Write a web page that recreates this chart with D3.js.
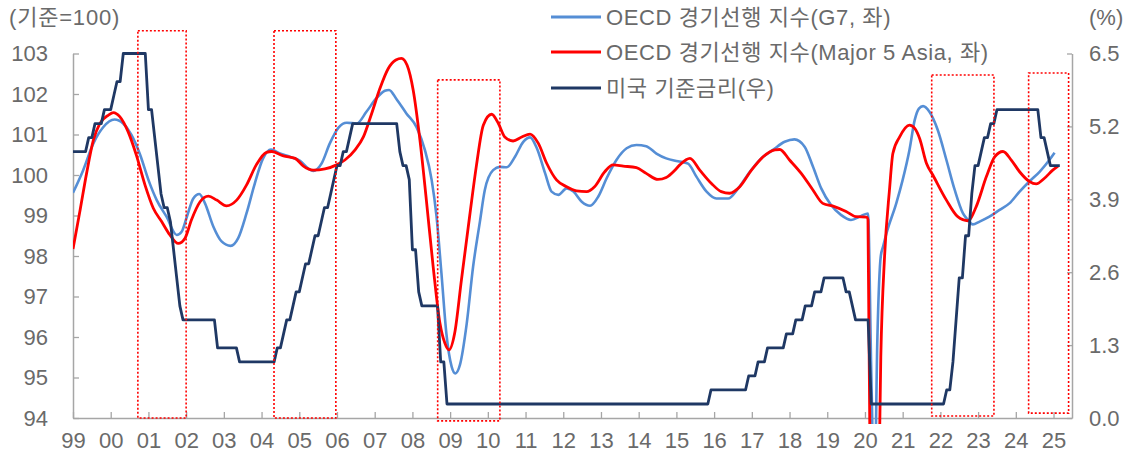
<!DOCTYPE html>
<html>
<head>
<meta charset="utf-8">
<script src="https://cdn.jsdelivr.net/npm/d3@7"></script>
<style>
  html, body { margin: 0; padding: 0; background: #fff; }
  svg { display: block; }
  text { font-family: "Liberation Sans", "Noto Sans CJK KR", sans-serif; fill: #6a6a6a; }
</style>
</head>
<body>
<svg id="chart" width="1124" height="452"></svg>
<script>
// ---- Data ---------------------------------------------------------------
const yearTicks = d3.range(1999, 2026);
const yearLabels = ["99","00","01","02","03","04","05","06","07","08","09","10","11","12",
                    "13","14","15","16","17","18","19","20","21","22","23","24","25"];
const leftTicks = [94, 95, 96, 97, 98, 99, 100, 101, 102, 103];
const rightTicks = [0.0, 1.3, 2.6, 3.9, 5.2, 6.5];

const seriesNames = ["OECD 경기선행 지수(G7, 좌)", "OECD 경기선행 지수(Major 5 Asia, 좌)", "미국 기준금리(우)"];

// OECD CLI, G7 (decimal year, index)
const g7Cli = [
  [1999.00,99.56],[1999.27,100.12],[1999.54,100.78],[1999.80,101.18],[2000.10,101.37],[2000.33,101.27],
  [2000.55,100.99],[2000.78,100.50],[2001.00,99.88],[2001.22,99.38],[2001.48,98.97],[2001.75,98.52],
  [2001.88,98.60],[2002.02,98.97],[2002.19,99.42],[2002.35,99.53],[2002.50,99.30],[2002.72,98.73],
  [2002.94,98.36],[2003.18,98.25],[2003.38,98.44],[2003.60,99.05],[2003.82,99.79],[2004.04,100.41],
  [2004.25,100.63],[2004.49,100.53],[2004.75,100.45],[2005.02,100.35],[2005.24,100.16],[2005.37,100.10],
  [2005.59,100.28],[2005.81,100.78],[2006.04,101.17],[2006.26,101.29],[2006.52,101.27],[2006.78,101.56],
  [2007.04,101.89],[2007.27,102.08],[2007.38,102.10],[2007.58,101.87],[2007.84,101.52],[2008.11,101.18],
  [2008.33,100.62],[2008.51,99.88],[2008.64,98.97],[2008.77,97.57],[2008.90,96.09],[2009.04,95.27],
  [2009.14,95.10],[2009.26,95.31],[2009.44,96.33],[2009.61,97.74],[2009.79,98.85],[2009.92,99.63],
  [2010.14,100.12],[2010.32,100.20],[2010.50,100.19],[2010.72,100.45],[2010.94,100.82],[2011.12,100.93],
  [2011.30,100.66],[2011.52,100.04],[2011.69,99.59],[2011.87,99.51],[2012.09,99.67],[2012.27,99.59],
  [2012.49,99.34],[2012.71,99.24],[2012.93,99.47],[2013.15,99.92],[2013.41,100.37],[2013.68,100.66],
  [2013.94,100.74],[2014.20,100.71],[2014.47,100.53],[2014.73,100.41],[2015.04,100.34],[2015.31,100.28],
  [2015.53,99.96],[2015.80,99.59],[2016.06,99.42],[2016.37,99.42],[2016.64,99.67],[2016.95,100.08],
  [2017.25,100.41],[2017.56,100.62],[2017.87,100.82],[2018.13,100.88],[2018.40,100.70],[2018.62,100.21],
  [2018.84,99.67],[2019.10,99.26],[2019.37,99.01],[2019.63,98.89],[2019.90,98.99],[2020.08,99.05],
  [2020.17,95.00],[2020.25,92.00],[2020.33,96.00],[2020.42,98.00],[2020.48,98.23],[2020.57,98.56],
  [2020.83,99.30],[2021.00,99.88],[2021.18,100.62],[2021.32,101.36],[2021.43,101.64],[2021.54,101.70],
  [2021.71,101.56],[2021.93,101.11],[2022.16,100.37],[2022.38,99.63],[2022.60,99.05],[2022.73,98.89],
  [2022.86,98.78],[2023.04,98.85],[2023.30,98.97],[2023.57,99.14],[2023.83,99.30],[2024.10,99.59],
  [2024.36,99.84],[2024.63,100.08],[2024.89,100.37],[2025.03,100.55]
];

// OECD CLI, Major 5 Asia (decimal year, index)
const asiaCli = [
  [1999.00,98.17],[1999.19,99.14],[1999.36,100.04],[1999.54,100.86],[1999.71,101.27],[1999.94,101.48],
  [2000.07,101.54],[2000.24,101.44],[2000.46,101.07],[2000.68,100.49],[2000.91,99.75],[2001.13,99.18],
  [2001.35,98.85],[2001.57,98.52],[2001.79,98.31],[2001.97,98.44],[2002.14,98.89],[2002.37,99.34],
  [2002.59,99.48],[2002.81,99.38],[2003.07,99.24],[2003.34,99.38],[2003.60,99.75],[2003.86,100.25],
  [2004.13,100.56],[2004.27,100.58],[2004.58,100.47],[2004.89,100.41],[2005.11,100.22],[2005.37,100.12],
  [2005.68,100.15],[2005.99,100.25],[2006.21,100.37],[2006.48,100.62],[2006.70,100.94],[2006.92,101.52],
  [2007.14,102.14],[2007.36,102.63],[2007.56,102.84],[2007.71,102.88],[2007.86,102.71],[2008.02,102.10],
  [2008.20,100.86],[2008.37,99.38],[2008.55,97.74],[2008.73,96.34],[2008.86,95.85],[2008.97,95.68],
  [2009.12,96.09],[2009.30,97.41],[2009.52,99.00],[2009.70,100.25],[2009.88,101.23],[2010.10,101.50],
  [2010.28,101.27],[2010.45,100.94],[2010.67,100.84],[2010.90,100.94],[2011.12,101.01],[2011.34,100.78],
  [2011.56,100.29],[2011.82,99.88],[2012.09,99.71],[2012.35,99.61],[2012.62,99.59],[2012.83,99.71],
  [2013.10,100.08],[2013.32,100.25],[2013.59,100.22],[2013.94,100.18],[2014.20,100.04],[2014.51,99.89],
  [2014.73,99.94],[2014.96,100.12],[2015.09,100.25],[2015.36,100.41],[2015.62,100.12],[2015.93,99.79],
  [2016.19,99.59],[2016.41,99.55],[2016.68,99.71],[2016.99,100.12],[2017.30,100.45],[2017.61,100.62],
  [2017.74,100.63],[2018.00,100.37],[2018.31,100.04],[2018.62,99.63],[2018.88,99.30],[2019.19,99.22],
  [2019.50,99.10],[2019.76,98.97],[2020.05,98.96],[2020.08,98.90],[2020.17,89.00],[2020.25,88.00],
  [2020.33,90.00],[2020.42,95.50],[2020.52,97.99],[2020.65,99.63],[2020.74,100.53],[2020.92,100.94],
  [2021.18,101.23],[2021.32,101.15],[2021.45,100.90],[2021.63,100.29],[2021.80,100.00],[2022.16,99.38],
  [2022.46,98.97],[2022.73,98.87],[2022.95,99.22],[2023.22,99.96],[2023.44,100.45],[2023.66,100.58],
  [2023.88,100.37],[2024.10,100.08],[2024.36,99.84],[2024.54,99.78],[2024.76,99.92],[2024.98,100.12],
  [2025.12,100.22]
];

// US policy rate (target / upper bound, %), monthly from Jan 1999
const fedRate = [
  4.75,4.75,4.75,4.75,4.75,5.00,5.00,5.25,5.25,5.25,5.50,5.50,   // 1999
  5.50,5.75,6.00,6.00,6.50,6.50,6.50,6.50,6.50,6.50,6.50,6.50,   // 2000
  5.50,5.50,5.00,4.50,4.00,3.75,3.75,3.50,3.00,2.50,2.00,1.75,   // 2001
  1.75,1.75,1.75,1.75,1.75,1.75,1.75,1.75,1.75,1.75,1.25,1.25,   // 2002
  1.25,1.25,1.25,1.25,1.25,1.00,1.00,1.00,1.00,1.00,1.00,1.00,   // 2003
  1.00,1.00,1.00,1.00,1.00,1.25,1.25,1.50,1.75,1.75,2.00,2.25,   // 2004
  2.25,2.50,2.75,2.75,3.00,3.25,3.25,3.50,3.75,3.75,4.00,4.25,   // 2005
  4.50,4.50,4.75,4.75,5.00,5.25,5.25,5.25,5.25,5.25,5.25,5.25,   // 2006
  5.25,5.25,5.25,5.25,5.25,5.25,5.25,5.25,4.75,4.50,4.50,4.25,   // 2007
  3.00,3.00,2.25,2.00,2.00,2.00,2.00,2.00,2.00,1.00,1.00,0.25,   // 2008
  0.25,0.25,0.25,0.25,0.25,0.25,0.25,0.25,0.25,0.25,0.25,0.25,   // 2009
  0.25,0.25,0.25,0.25,0.25,0.25,0.25,0.25,0.25,0.25,0.25,0.25,   // 2010
  0.25,0.25,0.25,0.25,0.25,0.25,0.25,0.25,0.25,0.25,0.25,0.25,   // 2011
  0.25,0.25,0.25,0.25,0.25,0.25,0.25,0.25,0.25,0.25,0.25,0.25,   // 2012
  0.25,0.25,0.25,0.25,0.25,0.25,0.25,0.25,0.25,0.25,0.25,0.25,   // 2013
  0.25,0.25,0.25,0.25,0.25,0.25,0.25,0.25,0.25,0.25,0.25,0.25,   // 2014
  0.25,0.25,0.25,0.25,0.25,0.25,0.25,0.25,0.25,0.25,0.25,0.50,   // 2015
  0.50,0.50,0.50,0.50,0.50,0.50,0.50,0.50,0.50,0.50,0.50,0.75,   // 2016
  0.75,0.75,1.00,1.00,1.00,1.25,1.25,1.25,1.25,1.25,1.25,1.50,   // 2017
  1.50,1.50,1.75,1.75,1.75,2.00,2.00,2.00,2.25,2.25,2.25,2.50,   // 2018
  2.50,2.50,2.50,2.50,2.50,2.50,2.25,2.25,2.00,1.75,1.75,1.75,   // 2019
  1.75,1.75,0.25,0.25,0.25,0.25,0.25,0.25,0.25,0.25,0.25,0.25,   // 2020
  0.25,0.25,0.25,0.25,0.25,0.25,0.25,0.25,0.25,0.25,0.25,0.25,   // 2021
  0.25,0.25,0.50,0.50,1.00,1.75,2.50,2.50,3.25,3.25,4.00,4.50,   // 2022
  4.50,4.75,5.00,5.00,5.25,5.25,5.50,5.50,5.50,5.50,5.50,5.50,   // 2023
  5.50,5.50,5.50,5.50,5.50,5.50,5.50,5.50,5.00,5.00,4.75,4.50,   // 2024
  4.50,4.50,4.50                                                // 2025
];

// Highlighted periods: [start, end] in decimal years, vertical extent on the left scale
const periodStart = [2000.72, 2004.33, 2008.67, 2021.77, 2024.34];
const periodEnd   = [2002.00, 2005.97, 2010.32, 2023.42, 2025.40];
const periodTop   = [103.56, 103.56, 102.35, 102.47, 102.52];
const periodBase  = [94.00, 94.00, 93.93, 94.05, 94.12];

// ---- Layout & scales -----------------------------------------------------
const colors = { g7: "#558ed5", asia: "#ff0000", rate: "#1f3864", axis: "#a6a6a6", text: "#6a6a6a" };
const fontStack = '"Liberation Sans", "Noto Sans CJK KR", sans-serif';
const fontSize = 22;
const plot = { left: 73, right: 1072, top: 53.5, bottom: 418 };

const svg = d3.select("#chart");
const x  = d3.scaleLinear().domain([1999, 2025.49]).range([plot.left, plot.right]);
const yL = d3.scaleLinear().domain([94, 103]).range([plot.bottom, plot.top]);
const yR = d3.scaleLinear().domain([0, 6.5]).range([plot.bottom, plot.top]);

// ---- Axes -----------------------------------------------------------------
function styleAxis(g) {
  g.selectAll("path.domain").attr("stroke", colors.axis).attr("stroke-width", 1.5);
  g.selectAll(".tick line").attr("stroke", colors.axis).attr("stroke-width", 1.3);
  g.selectAll(".tick text").attr("font-size", fontSize).attr("fill", colors.text)
    .attr("font-family", fontStack);
}

svg.append("g")
  .attr("transform", `translate(0,${plot.bottom})`)
  .call(d3.axisBottom(x).tickValues(yearTicks).tickSizeInner(-6).tickSizeOuter(0)
        .tickPadding(14).tickFormat((d, i) => yearLabels[i]))
  .call(styleAxis);

svg.append("g")
  .attr("transform", `translate(${plot.left},0)`)
  .call(d3.axisLeft(yL).tickValues(leftTicks).tickSizeInner(-6).tickSizeOuter(0)
        .tickPadding(25).tickFormat(d3.format("d")))
  .call(styleAxis);

svg.append("g")
  .attr("transform", `translate(${plot.right},0)`)
  .call(d3.axisRight(yR).tickValues(rightTicks).tickSizeInner(-5).tickSizeOuter(0)
        .tickPadding(17).tickFormat(d3.format(".1f")))
  .call(styleAxis);

// Unit captions
svg.append("text").attr("x", 9).attr("y", 25).attr("font-size", fontSize)
  .attr("letter-spacing", 0.8).text("(기준=100)");
svg.append("text").attr("x", 1089).attr("y", 25).attr("font-size", fontSize).text("(%)");

// ---- Lines ----------------------------------------------------------------
svg.append("clipPath").attr("id", "plotClip")
  .append("rect").attr("x", plot.left).attr("y", 0)
  .attr("width", plot.right - plot.left).attr("height", plot.bottom + 6);

const cliLine = d3.line().x(d => x(d[0])).y(d => yL(d[1])).curve(d3.curveMonotoneX);
const lines = svg.append("g").attr("clip-path", "url(#plotClip)");

lines.append("path").datum(g7Cli).attr("d", cliLine)
  .attr("fill", "none").attr("stroke", colors.g7).attr("stroke-width", 2.6)
  .attr("stroke-linejoin", "round");

lines.append("path").datum(asiaCli).attr("d", cliLine)
  .attr("fill", "none").attr("stroke", colors.asia).attr("stroke-width", 2.8)
  .attr("stroke-linejoin", "round");

const rateLine = d3.line().x((d, i) => x(1999 + i / 12)).y(d => yR(d));
lines.append("path").datum(fedRate).attr("d", rateLine)
  .attr("fill", "none").attr("stroke", colors.rate).attr("stroke-width", 2.8)
  .attr("stroke-linejoin", "round");

// ---- Highlighted periods ------------------------------------------------
svg.append("g").selectAll("rect")
  .data(periodStart.map((s, i) => ({ s, e: periodEnd[i], t: periodTop[i], b: periodBase[i] })))
  .join("rect")
  .attr("x", d => x(d.s)).attr("y", d => yL(d.t))
  .attr("width", d => x(d.e) - x(d.s)).attr("height", d => yL(d.b) - yL(d.t))
  .attr("fill", "none").attr("stroke", "#ff0000").attr("stroke-width", 1.6)
  .attr("stroke-dasharray", "2,2");

// ---- Legend ---------------------------------------------------------------
const legend = svg.append("g");
const legendColors = [colors.g7, colors.asia, colors.rate];
const legendY = [17, 52, 88];
seriesNames.forEach((name, i) => {
  legend.append("line").attr("x1", 551).attr("x2", 601)
    .attr("y1", legendY[i]).attr("y2", legendY[i])
    .attr("stroke", legendColors[i]).attr("stroke-width", 2.8);
  legend.append("text").attr("x", 606).attr("y", legendY[i]).attr("dy", "0.36em")
    .attr("font-size", fontSize).attr("letter-spacing", 0.6).text(name);
});
</script>
</body>
</html>
